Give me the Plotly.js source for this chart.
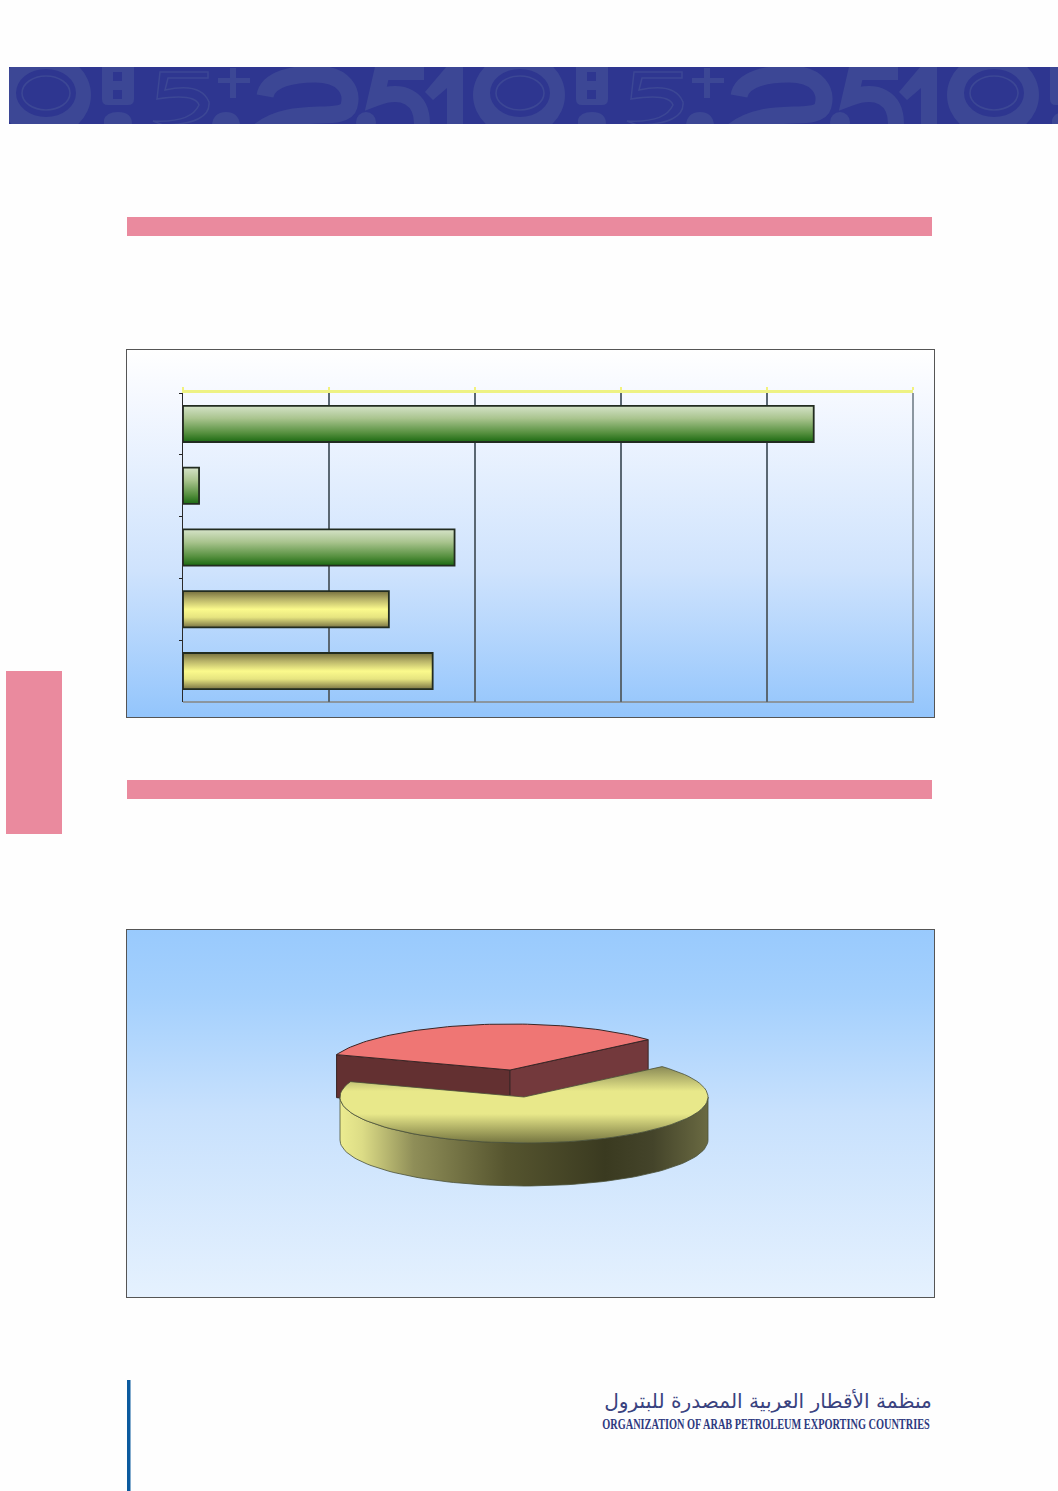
<!DOCTYPE html>
<html>
<head>
<meta charset="utf-8">
<script src="https://cdn.plot.ly/plotly-3.0.1.min.js"></script>
<style>
html,body{margin:0;padding:0;background:#fefefe;}
#page{position:relative;width:1058px;height:1491px;overflow:hidden;}
.panel{position:absolute;box-sizing:border-box;border:1px solid #555;}
#p1{left:126px;top:349px;width:809px;height:369px;background:linear-gradient(#ffffff 0%,#f6f9ff 12%,#cfe3fd 60%,#93c5fc 100%);}
#p2{left:126px;top:929px;width:809px;height:369px;background:linear-gradient(#99cafd 0%,#a4d0fd 18%,#c8e1fd 50%,#e5f1fe 100%);}
#banner{position:absolute;left:0;top:0;}
#plot{position:absolute;left:0;top:0;width:1058px;height:1491px;}
</style>
</head>
<body>
<div id="page">
<svg id="banner" width="1058" height="130" viewBox="0 0 1058 130">
  <defs>
    <clipPath id="bc"><rect x="9" y="67" width="1049" height="57"/></clipPath>
    <g id="glyphs" fill="#3c4795" stroke="none">
      <path fill-rule="evenodd" d="M-1 95a46 42 0 1 0 92 0a46 42 0 1 0 -92 0Z M16 93a30 24 0 1 0 60 0a30 24 0 1 0 -60 0Z"/>
      <ellipse cx="46" cy="93" rx="24" ry="17" fill="none" stroke="#3c4795" stroke-width="1.6"/>
      <path fill-rule="evenodd" d="M108 62h20q6 0 6 6v31q0 6 -6 6h-20q-6 0 -6 -6v-31q0 -6 6 -6Z M113 72h9v9h-9Z M113 90h9v9h-9Z"/>
      <path d="M104 124v-4q2 -8 14 -8q14 0 14 12Z"/>
      <path fill="none" stroke="#3c4795" stroke-width="1.5" d="M160 72h48v6h-40l-3 12q36 -8 44 12q2 22 -46 23l-10 -4q38 2 46 -16q-4 -12 -42 -6Z"/>
      <rect x="218" y="78" width="32" height="5"/><rect x="230" y="68" width="6" height="30"/>
      <path d="M212 124q2 -12 14 -12q12 0 14 12Z"/>
      <path fill="none" stroke="#3c4795" stroke-width="17" d="M265 96C268 78 295 74 315 74C345 74 353 92 349 106C344 124 290 104 258 132"/>
      <path fill="none" stroke="#3c4795" stroke-width="16" d="M424 72H382L376 98C403 88 422 98 422 124"/>
      <circle cx="366" cy="122" r="10"/>
      <path d="M425 92L447 66H463V124H447V88L433 100Z"/>
    </g>
  </defs>
  <rect x="9" y="67" width="1049" height="57" fill="#2e3690"/>
  <g clip-path="url(#bc)">
    <use href="#glyphs"/><use href="#glyphs" x="474"/><use href="#glyphs" x="948"/>
  </g>
</svg>
<div class="panel" id="p1"></div>
<div class="panel" id="p2"></div>
<div id="plot"></div>
</div>
<script>
// ---- data ----
const barCategories = ['A', 'B', 'C', 'D', 'E'];
const barValues = [43.2, 1.1, 18.6, 14.1, 17.1];
const barGroup = ['green', 'green', 'green', 'yellow', 'yellow'];
const pieLabels = ['red', 'yellow'];
const pieValues = [33.1, 66.9];
const logoArabic = 'منظمة الأقطار العربية المصدرة للبترول';
const logoEnglish = 'ORGANIZATION OF ARAB PETROLEUM EXPORTING COUNTRIES';

const W = 1058, H = 1491;
const px = v => v / W, py = v => 1 - v / H;

// ---- 3D pie geometry, derived from the values ----
const pieTotal = pieValues.reduce((a, b) => a + b, 0);
const pieFirstAngle = -70.5;
const RX = 184, RY = 46, DEPTH = 43;
const redCentre = {x: 510, y: 1070}, yellowCentre = {x: 524, y: 1097};
const redEnd = pieFirstAngle + 360 * pieValues[0] / pieTotal;
const yellowEnd = redEnd + 360 * pieValues[1] / pieTotal;
function pt(c, a, d) {
  const r = a * Math.PI / 180;
  return [c.x + RX * Math.sin(r), c.y - RY * Math.cos(r) + (d || 0)];
}
function arc(c, a0, a1, d) {
  const out = [], n = 80;
  for (let i = 0; i <= n; i++) out.push(pt(c, a0 + (a1 - a0) * i / n, d));
  return out;
}
function poly(points, extra) {
  return Object.assign({
    x: points.map(p => p[0]), y: points.map(p => p[1]),
    xaxis: 'x2', yaxis: 'y2', type: 'scatter', mode: 'lines', fill: 'toself',
    showlegend: false, hoverinfo: 'skip'
  }, extra);
}
const c0 = [redCentre.x, redCentre.y];
const c1 = [redCentre.x, redCentre.y + DEPTH];
const edge = '#3a2626';
const pieTraces = [
  poly([pt(redCentre, pieFirstAngle), c0, c1, pt(redCentre, pieFirstAngle, DEPTH), pt(redCentre, pieFirstAngle)],
       {fillcolor: '#633031', line: {color: edge, width: 1}}),
  poly([c0, pt(redCentre, redEnd), pt(redCentre, redEnd, DEPTH), c1, c0],
       {fillcolor: '#73393c', line: {color: edge, width: 1}}),
  poly([c0].concat(arc(redCentre, pieFirstAngle, redEnd)).concat([c0]),
       {fillcolor: '#ef7674', line: {color: edge, width: 1}}),
  poly(arc(yellowCentre, 90, 270).concat(arc(yellowCentre, 270, 90, DEPTH)).concat([pt(yellowCentre, 90)]),
       {line: {color: '#4a5038', width: 0.8},
        fillgradient: {type: 'horizontal', colorscale: [[0, '#ecec90'], [0.06, '#dcdc86'], [0.2, '#8f8e58'], [0.45, '#56552f'], [0.72, '#3a3a20'], [0.85, '#44442a'], [1, '#6a6a42']]}}),
  poly([[yellowCentre.x, yellowCentre.y]].concat(arc(yellowCentre, redEnd, yellowEnd)).concat([[yellowCentre.x, yellowCentre.y]]),
       {line: {color: '#4a5038', width: 0.8},
        fillgradient: {type: 'vertical', colorscale: [[0, '#757540'], [0.38, '#e8e88a'], [0.68, '#e8e88a'], [1, '#8a8a56']]}})
];

// ---- bars ----
const barTrace = {
  type: 'bar', orientation: 'h', x: barValues, y: barCategories, width: 0.585,
  marker: {color: barGroup.map(g => g === 'green' ? '#7fa668' : '#c9c878'), line: {color: '#222c20', width: 1.8}},
  hoverinfo: 'skip', showlegend: false, xaxis: 'x', yaxis: 'y'
};

const shapes = [
  [127, 217, 932, 236, '#ea8a9e'], [127, 780, 932, 799, '#ea8a9e'],
  [6, 671, 62, 834, '#ea8a9e'], [127, 1380, 130.5, 1491, '#0b5a9e']
].map(s => ({type: 'rect', xref: 'paper', yref: 'paper', x0: px(s[0]), x1: px(s[2]), y0: py(s[1]), y1: py(s[3]), fillcolor: s[4], line: {width: 0}, layer: 'below'}));
shapes.push({type: 'line', xref: 'paper', yref: 'paper', x0: px(913), x1: px(913), y0: py(702), y1: py(393), line: {color: '#8b96a0', width: 2}, layer: 'below'});
shapes.push({type: 'line', xref: 'paper', yref: 'paper', x0: px(183), x1: px(914), y0: py(702), y1: py(702), line: {color: '#8b96a0', width: 2}, layer: 'below'});

const layout = {
  width: W, height: H, margin: {l: 0, r: 0, t: 0, b: 0, pad: 0},
  paper_bgcolor: 'rgba(0,0,0,0)', plot_bgcolor: 'rgba(0,0,0,0)',
  hovermode: false, showlegend: false, bargap: 0.4,
  xaxis: {domain: [px(183), px(913)], range: [0, 50], side: 'top', anchor: 'y', dtick: 10, tick0: 0,
    ticks: 'outside', ticklen: 3, tickcolor: '#f2f27e', tickwidth: 2.5, showticklabels: false,
    showline: true, linecolor: '#eef284', linewidth: 3, showgrid: true, gridcolor: '#5a6772', gridwidth: 1.2, zeroline: false, fixedrange: true},
  yaxis: {domain: [py(702), py(393)], type: 'category', categoryorder: 'array', categoryarray: barCategories,
    range: [4.5, -0.5], anchor: 'x', tickson: 'boundaries', ticks: 'outside', ticklen: 3, tickcolor: '#222', tickwidth: 1,
    showticklabels: false, showline: true, linecolor: '#2a2a2a', linewidth: 1, showgrid: false, zeroline: false, fixedrange: true},
  xaxis2: {domain: [px(126), px(935)], range: [126, 935], anchor: 'y2', visible: false, fixedrange: true},
  yaxis2: {domain: [py(1298), py(929)], range: [1298, 929], anchor: 'x2', visible: false, fixedrange: true},
  shapes: shapes,
  annotations: [
    {xref: 'paper', yref: 'paper', x: px(932), y: py(1401), xanchor: 'right', yanchor: 'middle', showarrow: false,
     text: logoArabic, font: {family: '"DejaVu Sans", "Noto Sans", sans-serif', size: 20, color: '#39427f'}},
    {xref: 'paper', yref: 'paper', x: px(930), y: py(1424), xanchor: 'right', yanchor: 'middle', showarrow: false,
     text: '<b>' + logoEnglish + '</b>', font: {family: '"Liberation Serif", serif', size: 15, color: '#2f3a80'}}
  ]
};

Plotly.newPlot('plot', [barTrace].concat(pieTraces), layout, {displayModeBar: false, staticPlot: true}).then(gd => {
  const NS = 'http://www.w3.org/2000/svg';
  const svg = gd.querySelector('.main-svg');
  const defs = svg.querySelector('defs') || svg.insertBefore(document.createElementNS(NS, 'defs'), svg.firstChild);
  function grad(id, stops) {
    const g = document.createElementNS(NS, 'linearGradient');
    g.setAttribute('id', id); g.setAttribute('x1', 0); g.setAttribute('y1', 0); g.setAttribute('x2', 0); g.setAttribute('y2', 1);
    stops.forEach(s => {
      const st = document.createElementNS(NS, 'stop');
      st.setAttribute('offset', s[0]); st.setAttribute('stop-color', s[1]);
      g.appendChild(st);
    });
    defs.appendChild(g);
  }
  grad('barGreen', [[0, '#d5e3c8'], [0.35, '#a9c48e'], [0.75, '#56903f'], [1, '#1c6a12']]);
  grad('barYellow', [[0, '#77703f'], [0.22, '#b7b268'], [0.5, '#fbfa8c'], [0.72, '#e6e480'], [1, '#7a7444']]);
  gd.querySelectorAll('.barlayer .point path').forEach((p, i) => {
    p.style.fill = 'url(#' + (barGroup[i] === 'green' ? 'barGreen' : 'barYellow') + ')';
  });
  // fit each logo line to its printed width by scaling it horizontally about its own right edge
  const texts = gd.querySelectorAll('.annotation-text');
  [[328, 932], [328, 930]].forEach((fit, i) => {
    const t = texts[i];
    if (!t) return;
    const bb = t.getBBox();
    const k = fit[0] / bb.width;
    const R = bb.x + bb.width;
    const before = t.getBoundingClientRect().right;
    t.setAttribute('transform', 'translate(' + (R + fit[1] - before) + ' 0) scale(' + k + ' 1) translate(' + (-R) + ' 0)');
  });
});
</script>
</body>
</html>
